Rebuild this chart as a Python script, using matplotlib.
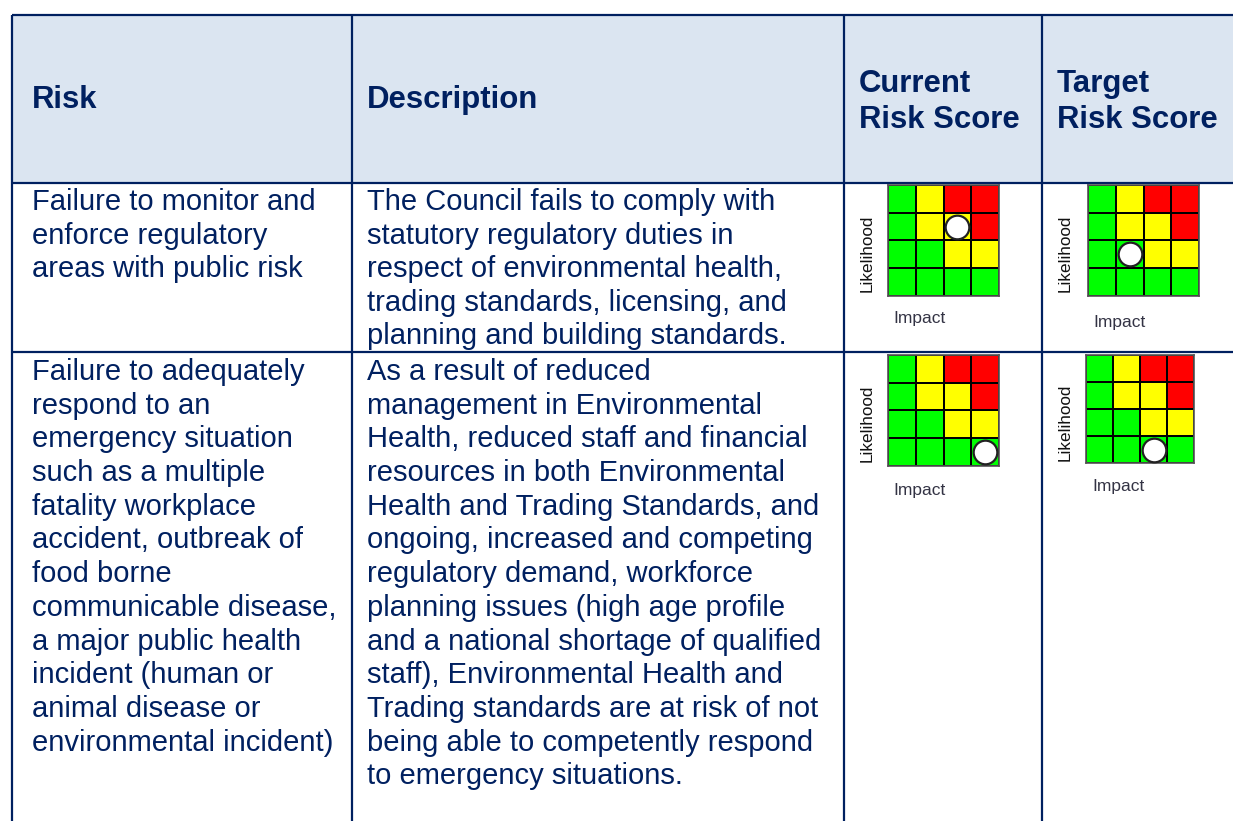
import matplotlib
matplotlib.use('Agg')
import matplotlib.pyplot as plt
from matplotlib.colors import ListedColormap
import numpy as np

W, H = 1233, 821
NAVY = '#002060'
HEAD_BG = '#DBE5F1'

headers = ['Risk', 'Description', 'Current\nRisk Score', 'Target\nRisk Score']

risks = [
    ['Failure to monitor and', 'enforce regulatory', 'areas with public risk'],
    ['Failure to adequately', 'respond to an', 'emergency situation', 'such as a multiple',
     'fatality workplace', 'accident, outbreak of', 'food borne', 'communicable disease,',
     'a major public health', 'incident (human or', 'animal disease or',
     'environmental incident)'],
]
descriptions = [
    ['The Council fails to comply with', 'statutory regulatory duties in',
     'respect of environmental health,', 'trading standards, licensing, and',
     'planning and building standards.'],
    ['As a result of reduced', 'management in Environmental',
     'Health, reduced staff and financial', 'resources in both Environmental',
     'Health and Trading Standards, and', 'ongoing, increased and competing',
     'regulatory demand, workforce', 'planning issues (high age profile',
     'and a national shortage of qualified', 'staff), Environmental Health and',
     'Trading standards are at risk of not', 'being able to competently respond',
     'to emergency situations.'],
]

# risk level grid, rows = likelihood 1..4 (bottom to top), cols = impact 1..4
levels = [
    [0, 0, 0, 0],
    [0, 0, 1, 1],
    [0, 1, 1, 2],
    [0, 1, 2, 2],
]
# (impact, likelihood) of each score
current_scores = [(3, 3), (4, 1)]
target_scores = [(2, 2), (3, 1)]

plt.rcParams['font.family'] = ['Liberation Sans', 'DejaVu Sans']

fig = plt.figure(figsize=(W / 100, H / 100), dpi=100)
ax = fig.add_axes([0, 0, 1, 1])
ax.set_xlim(0, W)
ax.set_ylim(H, 0)
ax.axis('off')

# table geometry (pixels)
top, head_bot, row_sep = 15, 183, 352
cols = [12, 352, 844, 1042, W]
lw = 1.6

ax.add_patch(plt.Rectangle((cols[0], top), W - cols[0], head_bot - top,
                           facecolor=HEAD_BG, edgecolor='none'))
for y in [top, head_bot, row_sep]:
    ax.plot([cols[0], W], [y, y], color=NAVY, lw=lw, solid_capstyle='butt')
for x in cols[:-1]:
    ax.plot([x, x], [top, H], color=NAVY, lw=lw, solid_capstyle='butt')

# header text
hx = [32, 367, 859, 1057]
for x, h in zip(hx, headers):
    lines = h.split('\n')
    if len(lines) == 1:
        ys = [108]
    else:
        ys = [92, 128]
    for y, t in zip(ys, lines):
        ax.text(x, y, t, fontsize=22.4, fontweight='bold', color=NAVY, va='baseline')

# body text
starts = [210, 380]
pitch = [33.6, 33.7]
for i in range(2):
    for k, t in enumerate(risks[i]):
        ax.text(32, starts[i] + k * pitch[i], t, fontsize=21, color=NAVY, va='baseline')
    for k, t in enumerate(descriptions[i]):
        ax.text(367, starts[i] + k * pitch[i], t, fontsize=21, color=NAVY, va='baseline')

cmap = ListedColormap(['#00FF00', '#FFFF00', '#FF0000'])


def draw_matrix(x0, y0, size, score, lik_xy, imp_xy):
    m = fig.add_axes([x0 / W, 1 - (y0 + size) / H, size / W, size / H])
    m.pcolormesh(np.arange(0.5, 5.5), np.arange(0.5, 5.5), np.array(levels),
                 cmap=cmap, vmin=-0.5, vmax=2.5, edgecolors='black', linewidth=1.2)
    m.scatter([score[0]], [score[1]], s=290, facecolor='white', edgecolor='#222222',
              linewidth=1.6, zorder=3)
    m.set_xlim(0.5, 4.5)
    m.set_ylim(0.5, 4.5)
    m.set_xticks([])
    m.set_yticks([])
    for s in m.spines.values():
        s.set_color('#555555')
        s.set_linewidth(1.2)
    ax.text(lik_xy[0], lik_xy[1], 'Likelihood', rotation=90, fontsize=12.3,
            color='#111111', ha='center', va='center')
    ax.text(imp_xy[0], imp_xy[1], 'Impact', fontsize=12.5, color='#333344',
            ha='left', va='center')


draw_matrix(888, 185, 111, current_scores[0], (867, 253), (893, 318))
draw_matrix(1088, 185, 111, target_scores[0], (1065, 253), (1093, 322))
draw_matrix(888, 355, 111, current_scores[1], (867, 423), (893, 490))
draw_matrix(1086, 355, 108, target_scores[1], (1065, 422), (1092, 487))

fig.savefig('out.png', dpi=100)
